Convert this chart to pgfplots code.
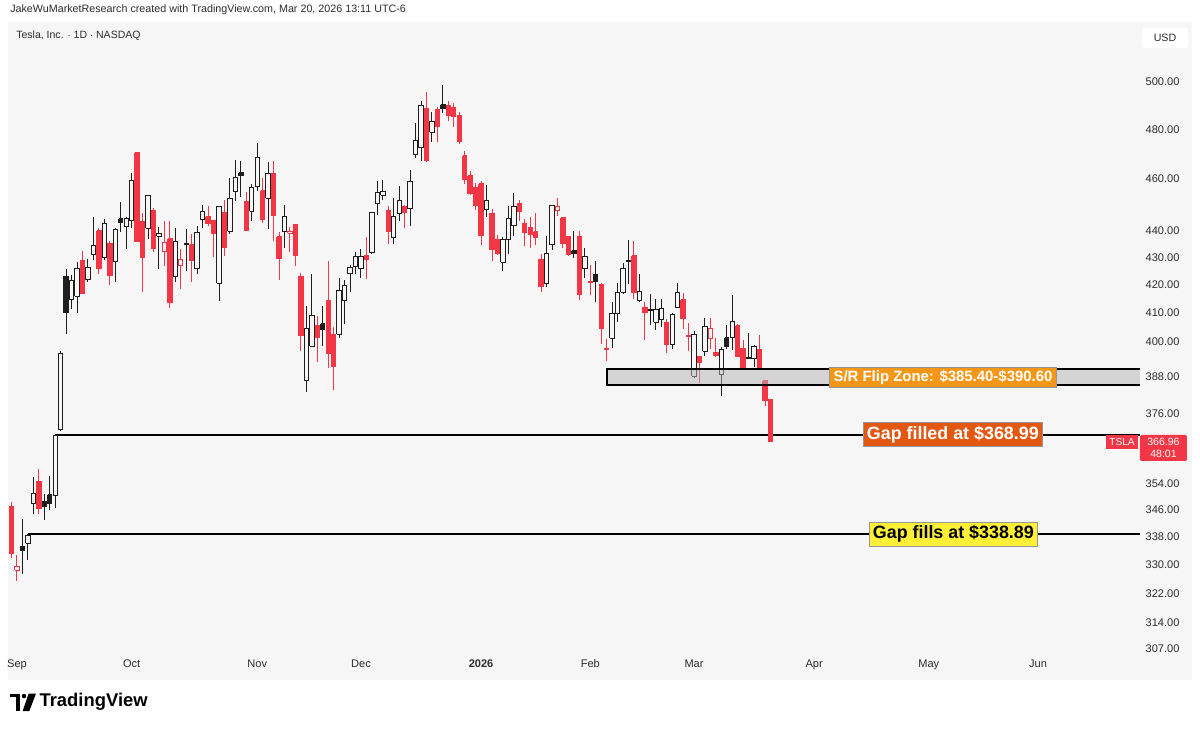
\documentclass[border=0pt]{standalone}
\usepackage{pgfplots}
\usepackage{pgfplotstable}
\pgfplotsset{compat=1.18}
\usepackage{fontspec}
\setmainfont{Liberation Sans}
\definecolor{tvred}{RGB}{242,54,69}
\definecolor{tvblack}{RGB}{30,30,30}
\definecolor{panelbg}{RGB}{246,246,246}
\definecolor{zonefill}{RGB}{180,180,180}
\definecolor{srorange}{RGB}{246,150,22}
\definecolor{gforange}{RGB}{226,88,18}
\definecolor{gfyellow}{RGB}{255,240,55}
\definecolor{boxgray}{RGB}{150,150,150}
\definecolor{txtgray}{RGB}{45,45,45}

\pgfplotstableread{
i o h l c
-1 347.0 348.4 331.9 333.3
0 328.4 332.9 325.6 329.4
1 335.2 343.2 327.5 334.1
2 336.2 338.9 331.5 338.5
3 348.0 355.9 344.7 350.8
4 354.6 358.4 344.8 346.4
5 348.4 350.8 343.1 347.0
6 350.6 356.3 346.1 347.8
7 350.2 369.0 346.7 368.8
8 370.9 396.7 370.2 395.9
9 423.1 425.7 402.4 410.0
10 414.5 423.3 411.4 421.6
11 415.8 428.3 409.7 425.9
12 428.9 432.2 416.6 416.9
13 421.8 429.5 421.0 426.1
14 431.1 445.0 429.1 434.2
15 439.9 441.0 423.7 425.9
16 429.8 444.2 429.0 442.8
17 435.2 436.0 419.7 423.4
18 428.3 440.9 420.8 440.4
19 444.4 451.0 439.4 443.2
20 441.5 445.1 432.9 444.7
21 443.8 462.5 440.8 459.5
22 470.5 470.8 435.6 436.0
23 443.3 446.8 417.3 429.8
24 440.8 453.6 436.7 453.3
25 447.8 448.5 432.0 433.1
26 437.9 441.3 425.5 438.7
27 432.1 443.5 426.7 435.5
28 436.9 443.5 411.5 413.5
29 423.0 440.9 420.8 435.9
30 426.9 433.0 418.4 429.2
31 434.7 440.5 424.8 435.2
32 434.7 438.8 421.1 428.8
33 425.7 441.8 423.8 439.3
34 444.2 449.6 440.9 447.4
35 445.3 449.2 441.6 442.6
36 443.8 444.0 430.0 439.0
37 420.5 449.4 414.0 449.0
38 447.0 451.8 430.5 433.7
39 439.8 460.4 438.6 452.4
40 454.9 467.7 451.5 460.6
41 462.5 467.0 452.8 461.5
42 451.3 455.0 439.8 440.1
43 447.4 458.0 443.7 456.6
44 456.9 474.4 455.2 468.4
45 455.4 460.2 442.8 444.3
46 452.4 466.8 440.6 462.1
47 462.1 467.2 436.2 445.9
48 437.7 439.4 421.7 429.5
49 439.8 449.6 433.4 445.2
50 439.0 441.5 432.0 439.6
51 442.3 442.5 426.8 430.6
52 423.0 424.2 396.6 402.0
53 386.7 412.3 383.0 404.4
54 398.4 424.0 398.0 408.9
55 405.3 408.7 393.0 401.3
56 406.0 412.3 398.4 404.0
57 414.1 428.6 391.0 395.7
58 402.3 405.0 383.5 391.3
59 402.5 422.3 401.1 417.9
60 414.1 421.5 406.1 419.8
61 424.0 427.0 417.4 426.4
62 426.7 432.0 424.0 430.1
63 425.7 433.2 422.2 430.1
64 430.8 437.6 422.0 429.2
65 431.6 446.8 431.2 446.7
66 450.3 459.2 446.0 454.5
67 453.6 459.4 451.6 455.0
68 447.5 449.4 435.0 439.6
69 437.3 452.5 435.0 445.2
70 446.5 457.0 443.6 451.5
71 449.1 449.6 440.9 446.9
72 448.4 463.6 441.6 459.0
73 469.7 482.5 468.4 475.3
74 472.5 492.0 467.0 489.9
75 488.5 495.6 466.7 467.3
76 478.9 487.4 475.0 483.4
77 488.4 489.2 475.0 481.2
78 490.3 498.8 487.0 488.7
79 489.8 492.0 483.3 485.6
80 489.2 491.2 481.1 485.4
81 485.6 487.4 474.1 475.2
82 469.2 471.0 458.0 459.6
83 461.3 463.0 453.5 454.4
84 456.5 458.5 448.0 449.7
85 458.1 459.0 434.6 438.1
86 448.0 457.7 445.1 451.7
87 446.5 448.2 428.6 433.0
88 436.5 438.4 430.7 431.4
89 428.1 437.5 424.8 436.5
90 436.5 449.4 431.1 444.7
91 441.8 454.6 437.9 449.0
92 450.3 451.6 443.6 447.2
93 442.8 444.4 434.0 439.2
94 441.3 445.3 433.3 438.6
95 439.6 446.8 434.6 437.5
96 429.2 431.2 417.4 419.3
97 420.3 437.9 419.1 431.4
98 434.6 449.6 432.6 449.4
99 447.5 452.5 445.6 449.1
100 444.8 444.8 433.5 435.2
101 437.7 437.7 430.3 431.0
102 432.4 440.0 429.6 431.5
103 437.7 440.0 414.6 416.6
104 425.8 433.4 422.3 430.4
105 421.2 427.1 416.1 420.8
106 423.7 428.6 413.6 421.2
107 420.0 420.5 399.2 404.5
108 397.6 400.7 393.3 397.2
109 401.0 413.7 397.7 409.6
110 409.8 420.4 406.6 417.3
111 417.3 427.7 416.7 425.8
112 428.4 436.3 420.3 428.7
113 430.5 436.0 414.7 417.3
114 414.1 424.0 413.6 417.6
115 411.8 413.7 400.6 410.1
116 411.0 416.7 405.7 410.7
117 406.6 414.7 404.0 411.1
118 407.6 414.7 405.0 411.3
119 406.6 407.8 396.1 398.9
120 398.9 410.0 397.5 409.2
121 411.8 420.4 411.6 417.3
122 414.5 416.8 404.2 408.0
123 402.1 406.3 396.7 401.7
124 388.2 403.5 387.5 402.4
125 395.0 395.0 385.8 392.7
126 396.7 408.0 395.0 405.1
127 401.0 408.2 397.4 404.5
128 396.3 401.2 394.7 395.3
129 388.8 398.0 381.6 397.1
130 401.2 405.7 397.5 398.3
131 401.2 416.1 397.1 406.8
132 405.4 406.0 395.0 395.0
133 397.6 400.6 390.3 390.7
134 394.6 402.7 394.0 394.1
135 394.1 398.8 391.3 398.1
136 397.1 402.1 390.7 390.9
137 386.8 386.8 378.3 380.0
138 380.4 380.4 366.9 367.0
}\candles

\begin{document}
\begin{tikzpicture}
\path[use as bounding box] (0pt,0pt) rectangle (900pt,546.75pt);
\fill[white] (0pt,0pt) rectangle (900pt,546.75pt);
\fill[panelbg] (6pt,36.75pt) rectangle (894pt,530.25pt);

\node[anchor=west, inner sep=0pt, text=txtgray, font=\fontsize{8.05pt}{10pt}\selectfont] at (7.5pt,539.25pt) {JakeWuMarketResearch created with TradingView.com, Mar 20, 2026 13:11 UTC-6};

\begin{axis}[
  at={(6pt,56.25pt)}, anchor=south west,
  width=849pt, height=474pt, scale only axis,
  xmin=-1.648, xmax=205.68,
  ymode=log, ymin=305.66, ymax=526.5,
  axis line style={draw=none},
  major tick length=0pt,
  tick style={draw=none},
  clip=false,
  /pgf/number format/assume math mode=true,
  ytick={307,314,322,330,338,346,354,376,388,400,410,420,430,440,460,480,500},
  yticklabels={307.00,314.00,322.00,330.00,338.00,346.00,354.00,376.00,388.00,400.00,410.00,420.00,430.00,440.00,460.00,480.00,500.00},
  yticklabel pos=right,
  yticklabel style={anchor=west, inner sep=0pt, xshift=4pt, text=txtgray, font=\fontsize{8.3pt}{10pt}\selectfont},
  xtick={0,21,44,63,85,105,124,146,167,187},
  xticklabels={Sep,Oct,Nov,Dec,\textbf{2026},Feb,Mar,Apr,May,Jun},
  xticklabel style={anchor=north, inner sep=0pt, yshift=-4pt, text=txtgray, font=\fontsize{8.3pt}{10pt}\selectfont},
]
% reference lines
\addplot[black, line width=1.5pt, forget plot] coordinates {(7,368.99) (205.68,368.99)};
\addplot[black, line width=1.5pt, forget plot] coordinates {(2,338.89) (205.68,338.89)};

% candles
\pgfplotstablegetrowsof{\candles}
\pgfmathtruncatemacro{\lastrow}{\pgfplotsretval-1}
\def\prevc{345.98}
\pgfplotsforeachungrouped \r in {0,...,\lastrow}{%
  \pgfplotstablegetelem{\r}{i}\of\candles \let\ci\pgfplotsretval
  \pgfplotstablegetelem{\r}{o}\of\candles \let\co\pgfplotsretval
  \pgfplotstablegetelem{\r}{h}\of\candles \let\ch\pgfplotsretval
  \pgfplotstablegetelem{\r}{l}\of\candles \let\cl\pgfplotsretval
  \pgfplotstablegetelem{\r}{c}\of\candles \let\cc\pgfplotsretval
  \pgfmathsetmacro\xa{\ci-0.4}%
  \pgfmathsetmacro\xb{\ci+0.4}%
  \pgfmathtruncatemacro\isred{\cc<\prevc}%
  \pgfmathtruncatemacro\isfilled{\cc<\co}%
  \ifnum\isred=1 \def\ccol{tvred}\else\def\ccol{tvblack}\fi
  \ifnum\isfilled=1 \edef\cfill{\ccol}\else\def\cfill{panelbg}\fi
  \edef\tmp{%
    \noexpand\addplot[\ccol, line width=0.75pt, forget plot] coordinates {(\ci,\cl) (\ci,\ch)};
    \noexpand\addplot[draw=\ccol, fill=\cfill, line width=0.75pt, forget plot] coordinates {(\xa,\co) (\xb,\co) (\xb,\cc) (\xa,\cc) (\xa,\co)};
  }\tmp
  \let\prevc\cc
}

% S/R zone
\addplot[draw=none, fill=zonefill, fill opacity=0.5, forget plot] coordinates {(108,385.4) (205.68,385.4) (205.68,390.6) (108,390.6)} -- cycle;
\addplot[black, line width=1.5pt, forget plot] coordinates {(205.68,390.6) (108,390.6) (108,385.4) (205.68,385.4)};

% annotation labels
\node[fill=srorange, draw=boxgray, line width=0.6pt, text=white, inner xsep=3pt, inner ysep=0pt, minimum height=15pt, font=\bfseries\fontsize{11.2pt}{13pt}\selectfont] at (axis cs:169.6,387.9) {S/R Flip Zone: \$385.40-\$390.60};
\node[fill=gforange, draw=boxgray, line width=0.6pt, text=white, inner xsep=2.6pt, inner ysep=0pt, minimum height=18pt, font=\bfseries\fontsize{13.4pt}{15pt}\selectfont] at (axis cs:171.4,369.2) {Gap filled at \$368.99};
\node[fill=gfyellow, draw=boxgray, line width=0.6pt, text=black, inner xsep=2.6pt, inner ysep=0pt, minimum height=18pt, font=\bfseries\fontsize{13.4pt}{15pt}\selectfont] at (axis cs:171.5,338.9) {Gap fills at \$338.89};
\end{axis}

% legend text
\node[anchor=west, inner sep=0pt, text=txtgray, font=\fontsize{7.9pt}{9pt}\selectfont] at (12pt,519.75pt) {Tesla, Inc. $\cdot$ 1D $\cdot$ NASDAQ};
% USD box
\node[fill=white, rounded corners=2pt, minimum width=34.5pt, minimum height=15pt, inner sep=0pt, text=txtgray, font=\fontsize{8pt}{9pt}\selectfont] at (873.75pt,518.25pt) {USD};
% TSLA label and price label
\node[fill=tvred, minimum width=24pt, minimum height=11pt, inner sep=0pt, text=white, font=\fontsize{7.6pt}{9pt}\selectfont] at (841.5pt,215.25pt) {TSLA};
\node[fill=tvred, rounded corners=1pt, minimum width=35.25pt, minimum height=19.5pt, inner sep=0pt, text=white, align=center, font=\fontsize{7.9pt}{8.6pt}\selectfont] at (872.6pt,210.75pt) {366.96\\48:01};

% TradingView logo
\fill[black] (7.5pt,26.6pt) rectangle (15pt,24pt);
\fill[black] (12pt,26.6pt) rectangle (15pt,13.5pt);
\fill[black] (18pt,24.7pt) circle (1.7pt);
\fill[black] (21.5pt,26.6pt) -- (27pt,26.6pt) -- (22pt,13.5pt) -- (17pt,13.5pt) -- cycle;
\node[anchor=west, inner sep=0pt, font=\bfseries\fontsize{13.8pt}{15pt}\selectfont] at (29.5pt,20.25pt) {TradingView};
\end{tikzpicture}
\end{document}
